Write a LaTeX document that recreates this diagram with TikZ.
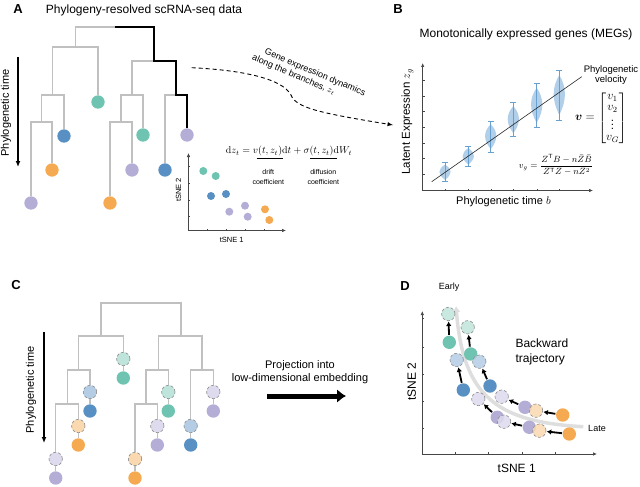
\documentclass[tikz,border=0pt]{standalone}
\usepackage[no-math]{fontspec}
\setmainfont{Liberation Sans}
\usepackage{amsmath,bm}
\usetikzlibrary{arrows.meta}
\tikzset{>=latex}
\definecolor{cellteal}{RGB}{110,196,176}
\definecolor{cellblue}{RGB}{88,144,196}
\definecolor{cellorange}{RGB}{245,170,82}
\definecolor{celllilac}{RGB}{180,174,214}
\definecolor{branchgray}{RGB}{192,192,192}
\definecolor{violinblue}{RGB}{104,160,208}
\definecolor{violinfill}{RGB}{178,207,234}
\definecolor{axisgray}{RGB}{70,70,70}
\newcommand{\txtsize}[2]{\fontsize{#1}{#2}\selectfont}
\tikzstyle{branchline}=[draw=branchgray,line width=1.3pt]
\tikzstyle{pathline}=[draw=black,line width=2.8pt]
\tikzstyle{axisline}=[draw=axisgray,line width=0.7pt,-{Latex[length=4pt,width=3.5pt]}]
\tikzstyle{tickline}=[draw=axisgray,line width=0.4pt]
\tikzstyle{violinline}=[draw=violinblue,line width=0.8pt]
\tikzstyle{cellleaf}=[circle,inner sep=0pt,minimum size=13.4pt,draw=none]
\tikzstyle{cellghost}=[circle,inner sep=0pt,minimum size=13.4pt,draw=gray!90,densely dashed,line width=0.6pt]
\tikzstyle{dotcell}=[circle,inner sep=0pt,minimum size=8pt]
\tikzstyle{backstep}=[draw=black,line width=1.8pt,-{Latex[length=4.5pt,width=5.5pt]},shorten <=0.5pt,shorten >=0.5pt]
\tikzstyle{timearrow}=[draw=black,line width=1.3pt,-{Latex[length=6pt,width=5pt]}]
\tikzstyle{panel}=[font=\txtsize{13}{13}\bfseries]

\begin{document}
\begin{tikzpicture}[x=1pt,y=-1pt]
    \useasboundingbox (0,0) rectangle (640,487);
    \node[panel] (la) at (18,9) {A};
    \node[panel] (lb) at (398,9) {B};
    \node[panel] (lc) at (16,285) {C};
    \node[panel] (ld) at (405,286) {D};

    % A: tree with one lineage
    \node[font=\txtsize{12}{14}] (ta) at (144,10) {Phylogeny-resolved scRNA-seq data};
    \coordinate (ar) at (115,27);
    \coordinate (aL) at (75.5,47);
    \coordinate (aR) at (154,61);
    \coordinate (aL1) at (52.5,95);
    \coordinate (aL11) at (41.5,122);
    \coordinate (aR1) at (132,95);
    \coordinate (aR11) at (121,122);
    \coordinate (aR2) at (176,95);
    \node[cellleaf,fill=cellteal] (at1) at (98,102) {};
    \node[cellleaf,fill=cellblue] (ab1) at (64,136) {};
    \node[cellleaf,fill=celllilac] (al1) at (31,203) {};
    \node[cellleaf,fill=cellorange] (ao1) at (52,170) {};
    \node[cellleaf,fill=cellteal] (at2) at (143,135) {};
    \node[cellleaf,fill=cellorange] (ao2) at (110,203) {};
    \node[cellleaf,fill=celllilac] (al2) at (132,170) {};
    \node[cellleaf,fill=cellblue] (ab2) at (165,170) {};
    \node[cellleaf,fill=celllilac] (al3) at (187,135) {};
    \draw[branchline] (ar) -| (aL) (ar) -| (aR);
    \draw[branchline] (aL) -| (aL1) (aL) -| (at1);
    \draw[branchline] (aL1) -| (aL11) (aL1) -| (ab1);
    \draw[branchline] (aL11) -| (al1) (aL11) -| (ao1);
    \draw[branchline] (aR) -| (aR1) (aR) -| (aR2);
    \draw[branchline] (aR1) -| (aR11) (aR1) -| (at2);
    \draw[branchline] (aR11) -| (ao2) (aR11) -| (al2);
    \draw[branchline] (aR2) -| (ab2) (aR2) -| (al3);
    \draw[pathline] (ar) -| (aR) -| (aR2) -| (al3);
    \coordinate (ta0) at (18,57);
    \coordinate (ta1) at (18,167);
    \draw[timearrow] (ta0) -- (ta1);
    \node[rotate=90,font=\txtsize{11}{13}] (tla) at (6,113) {Phylogenetic time};

    % A: sde and small embedding
    \node[font=\txtsize{10}{12}] (eqa) at (289,151) {$\mathrm{d}z_t = v(t,z_t)\mathrm{d}t + \sigma(t,z_t)\mathrm{d}W_t$};
    \draw[line width=1.3pt] (256.7,158.3) -- (283.3,158.3);
    \draw[line width=1.3pt] (310,158.3) -- (336.7,158.3);
    \node[font=\txtsize{7}{10},align=center] (drift) at (268.3,176.5) {drift\\coefficient};
    \node[font=\txtsize{7}{10},align=center] (diffu) at (323.3,176.5) {diffusion\\coefficient};
    \coordinate (eO) at (188.5,230.5);
    \coordinate (eX) at (286,230.5);
    \coordinate (eY) at (188.5,153);
    \draw[axisline] (eO) -- (eX);
    \draw[axisline] (eO) -- (eY);
    \foreach \tx in {207,226,245,264} \draw[tickline] (\tx,230.5) -- (\tx,228.8);
    \foreach \ty in {166,183,200,216} \draw[tickline] (188.5,\ty) -- (190.2,\ty);
    \node[font=\txtsize{7.5}{9}] (ex) at (231.7,239.5) {tSNE 1};
    \node[rotate=90,font=\txtsize{7.5}{9}] (ey) at (178.5,190) {tSNE 2};
    \foreach \nm/\x/\y/\col in {1/203.3/171/cellteal, 2/215.7/176/cellteal, 3/211/196/cellblue, 4/226/194/cellblue,
        5/229.3/211.7/celllilac, 6/245/205.7/celllilac, 7/247.7/216.7/celllilac, 8/265/209.3/cellorange, 9/269.3/220/cellorange}
        \node[dotcell,fill=\col] (e\nm) at (\x,\y) {};

    % A to B
    \coordinate (gs) at (191.7,67.7);
    \coordinate (gm) at (291,95);
    \coordinate (ge) at (393,125);
    \draw[line width=0.9pt,dash pattern=on 4pt off 3pt,->] (gs) .. controls (240,70) and (282,78) .. (gm)
        .. controls (296,108) and (320,113) .. (ge);
    \node[rotate=-23,anchor=north west,inner sep=0pt,align=left,font=\txtsize{9}{10.5}] (gl) at (266.5,47.5)
        {Gene expression dynamics\\\hspace*{-9pt}along the branches, $z_t$};

    % B: violins
    \node[font=\txtsize{12}{14}] (tb) at (526,34) {Monotonically expressed genes (MEGs)};
    \coordinate (bO) at (422.7,190.5);
    \coordinate (bX) at (593,190.5);
    \coordinate (bY) at (422.7,63);
    \draw[axisline] (bO) -- (bX);
    \draw[axisline] (bO) -- (bY);
    \foreach \tx in {445,468.3,490.7,513.3,536.7,559.3} \draw[tickline] (\tx,190.5) -- (\tx,188.5);
    \foreach \ty in {80,95.7,111.3,127,142.7,158.3,174} \draw[tickline] (422.7,\ty) -- (424.7,\ty);
    \foreach \vx/\wt/\wb in {445/162.7/181.7, 468.3/146/166.7, 490.7/121/152.3, 513.3/102.7/136.7, 536.7/83.3/127.3, 559.3/70/120}{
        \pgfmathsetmacro\vh{\wb-\wt}
        \fill[violinfill] (\vx,\wt+0.1*\vh) .. controls (\vx+7.5,\wt+0.35*\vh) and (\vx+7.5,\wt+0.6*\vh) .. (\vx,\wb-0.1*\vh)
            .. controls (\vx-7.5,\wt+0.6*\vh) and (\vx-7.5,\wt+0.35*\vh) .. cycle;
        \draw[violinline] (\vx,\wt) -- (\vx,\wb);
        \draw[violinline] (\vx-3,\wt) -- (\vx+3,\wt);
        \draw[violinline] (\vx-3,\wb) -- (\vx+3,\wb);
    }
    \coordinate (rs) at (431.7,181.7);
    \coordinate (re) at (581.7,76.7);
    \draw[line width=0.6pt,black!85] (rs) -- (re);
    \node[font=\txtsize{9.5}{10.5},align=center,inner sep=0.5pt] (pv) at (611,75) {Phylogenetic\\velocity};
    \node[font=\txtsize{11.5}{13},inner sep=0pt] (vv) at (601,118) {\renewcommand{\arraystretch}{0.85}$\bm{v} = \begin{bmatrix} v_1\\ v_2\\ \vdots\\ v_G\end{bmatrix}$};
    \node[font=\txtsize{9}{11},inner sep=0pt] (vg) at (556,165) {$v_g = \dfrac{Z^{\mathsf{T}}B - n\bar{Z}\bar{B}}{Z^{\mathsf{T}}Z - n\bar{Z}^2}$};
    \node[rotate=90,font=\txtsize{11.5}{13}] (by) at (407.5,121.7) {Latent Expression $z_g$};
    \node[font=\txtsize{11}{13}] (bx) at (503.5,201.5) {Phylogenetic time $b$};

    % C: tree with parent states
    \coordinate (cr) at (141,303);
    \coordinate (cL) at (101,336);
    \coordinate (cR) at (181,336);
    \coordinate (cL1) at (78.3,370);
    \coordinate (cL11) at (67.7,404);
    \coordinate (cR1) at (158.3,370);
    \coordinate (cR11) at (146,404);
    \coordinate (cR2) at (202,370);
    \foreach \nm/\x/\y/\col in {t1/123.3/359/cellteal, b1/90/392/cellblue, o1/78.3/426/cellorange, l1/55.7/459/celllilac,
        t2/168.3/392/cellteal, l2/157.3/426/celllilac, o2/135/459/cellorange, l3/213.3/392/celllilac, b2/190.7/426/cellblue}{
        \node[cellghost,fill=\col!45!white] (g\nm) at (\x,\y) {};
        \node[cellleaf,fill=\col] (s\nm) at (\x,\y+19) {};
        \draw[branchline] (g\nm) -- (s\nm);
    }
    \draw[branchline] (cr) -| (cL) (cr) -| (cR);
    \draw[branchline] (cL) -| (cL1) (cL) -| (gt1);
    \draw[branchline] (cL1) -| (cL11) (cL1) -| (gb1);
    \draw[branchline] (cL11) -| (gl1) (cL11) -| (go1);
    \draw[branchline] (cR) -| (cR1) (cR) -| (cR2);
    \draw[branchline] (cR1) -| (cR11) (cR1) -| (gt2);
    \draw[branchline] (cR11) -| (go2) (cR11) -| (gl2);
    \draw[branchline] (cR2) -| (gb2) (cR2) -| (gl3);
    \coordinate (tc0) at (44,332);
    \coordinate (tc1) at (44,443);
    \draw[timearrow] (tc0) -- (tc1);
    \node[rotate=90,font=\txtsize{11}{13}] (tlc) at (31,390) {Phylogenetic time};

    % C to D
    \node[font=\txtsize{11}{13.5},align=center] (proj) at (300,372) {Projection into\\low-dimensional embedding};
    \coordinate (pa) at (267,396);
    \coordinate (pb) at (346,396);
    \draw[line width=5pt,-{Latex[length=9pt,width=14pt]}] (pa) -- (pb);

    % D: backward trajectory
    \coordinate (dO) at (422.3,454);
    \coordinate (dX) at (597,454);
    \coordinate (dY) at (422.3,311);
    \draw[axisline] (dO) -- (dX);
    \draw[axisline] (dO) -- (dY);
    \foreach \tx in {455,488,521.7,555} \draw[tickline] (\tx,454) -- (\tx,452);
    \foreach \ty in {318,346.7,374,400.7,427.7} \draw[tickline] (422.3,\ty) -- (424.3,\ty);
    \coordinate (ws) at (583.3,426.7);
    \coordinate (we) at (456,306);
    \draw[draw=black!13,line width=3.5pt,-{Latex[length=6pt,width=8pt]}] (ws) .. controls (495,422) and (463,395) .. (we);
    \foreach \nm/\gx/\gy/\sx/\sy/\col in {1/448.3/314/449.3/342.3/cellteal, 2/467.7/327.3/470.7/354/cellteal,
        3/456.7/360/463.3/390/cellblue, 4/479.3/361.7/490/386/cellblue, 5/478.3/399/497.3/417.3/celllilac,
        6/501.7/396.7/525/407.3/celllilac, 7/504/421.7/529.3/427.3/celllilac, 8/536/410.7/562.7/415/cellorange,
        9/539.3/430.7/569.3/434/cellorange}{
        \node[cellleaf,fill=\col] (ds\nm) at (\sx,\sy) {};
        \node[cellghost,fill=\col!45!white,fill opacity=0.85] (dg\nm) at (\gx,\gy) {};
    }
    \foreach \nm in {1,...,9} \draw[backstep] (ds\nm) -- (dg\nm);
    \node[font=\txtsize{9}{11}] (early) at (449,287) {Early};
    \node[font=\txtsize{9}{11}] (late) at (597,428.5) {Late};
    \node[font=\txtsize{12}{15},align=left,anchor=west] (bw) at (512,351.5) {Backward\\trajectory};
    \node[rotate=90,font=\txtsize{12}{14}] (dy) at (411.7,381.7) {tSNE 2};
    \node[font=\txtsize{12}{14}] (dx) at (516.7,468) {tSNE 1};
\end{tikzpicture}
\end{document}
